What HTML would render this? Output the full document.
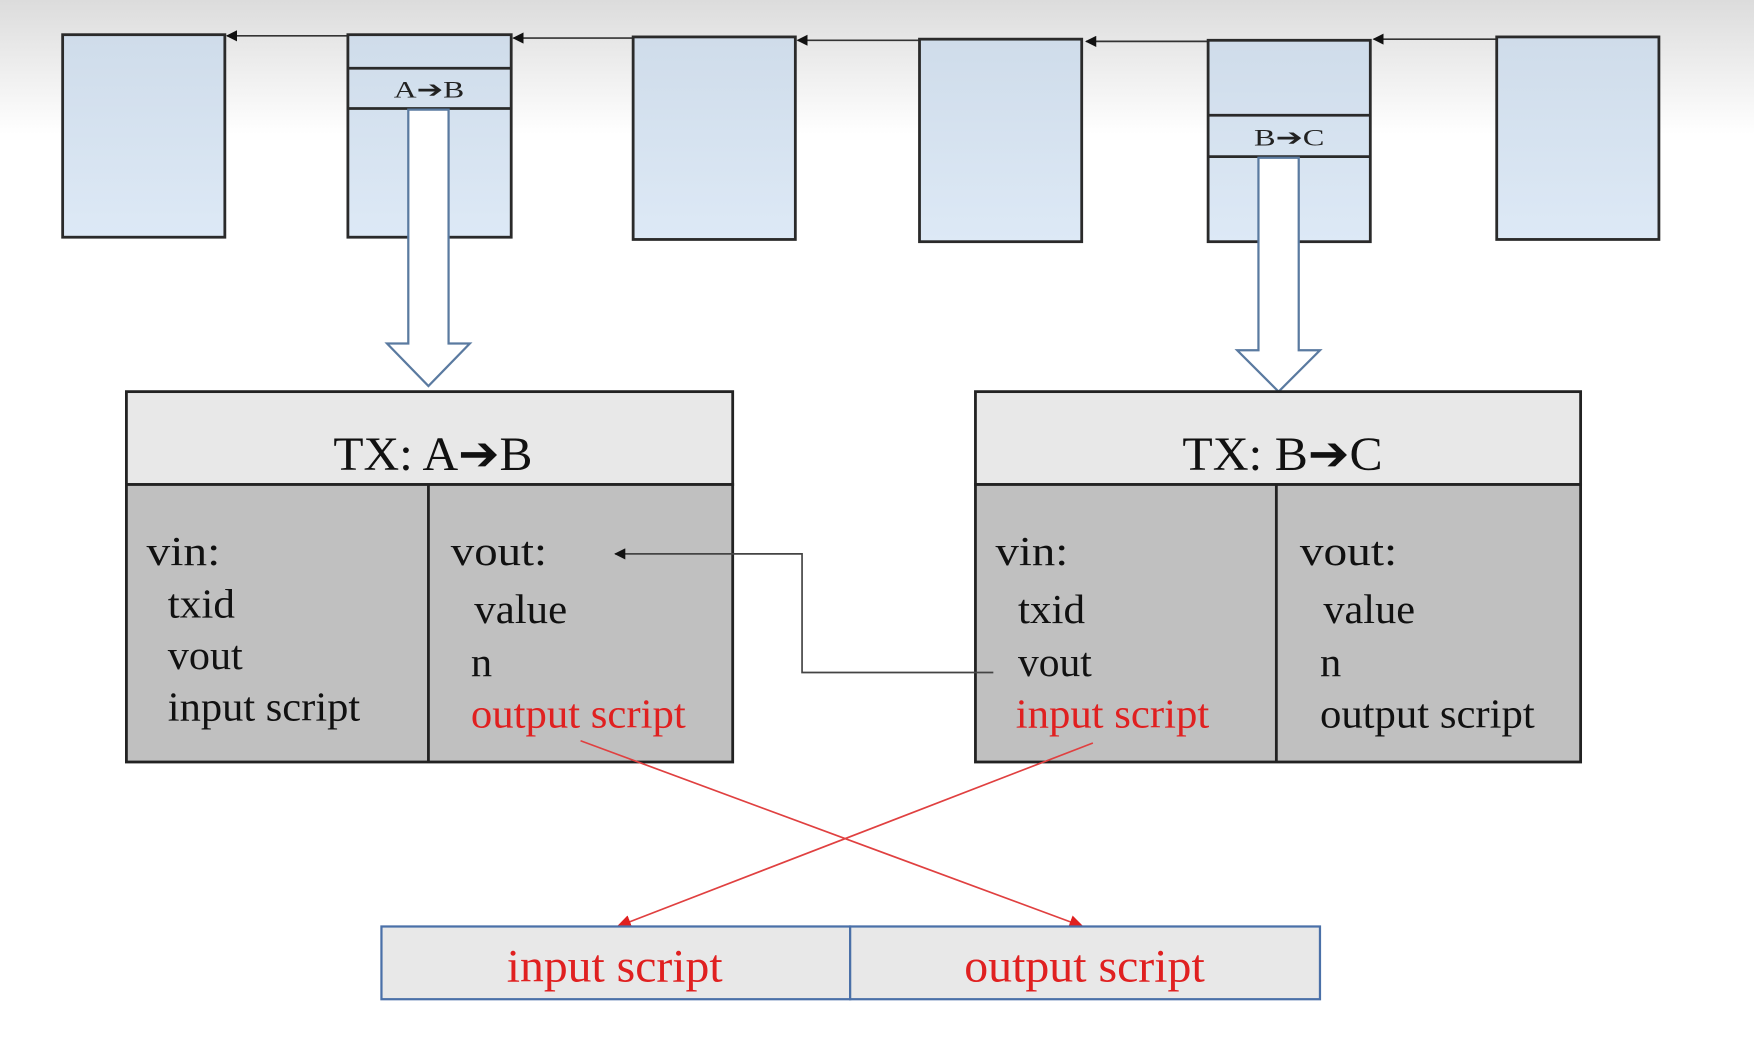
<!DOCTYPE html>
<html><head><meta charset="utf-8"><style>
html,body{margin:0;padding:0;background:#fff;}
svg{display:block;}
text{font-family:"Liberation Serif",serif;}
</style></head><body>
<svg width="1754" height="1063" viewBox="0 0 1568 950" preserveAspectRatio="none" xmlns="http://www.w3.org/2000/svg">
<defs>
<linearGradient id="bg" x1="0" y1="0" x2="0" y2="1">
<stop offset="0" stop-color="#dcdcdc"/><stop offset="1" stop-color="#ffffff"/></linearGradient>
<linearGradient id="blk" x1="0" y1="0" x2="0" y2="1">
<stop offset="0" stop-color="#cfdcea"/><stop offset="1" stop-color="#dde9f6"/></linearGradient>
<marker id="ab" markerWidth="10" markerHeight="10" refX="9" refY="5" orient="auto" markerUnits="userSpaceOnUse">
<path d="M0,0 L10,5 L0,10 z" fill="#111"/></marker>
<marker id="ar" markerWidth="14" markerHeight="12" refX="12" refY="6" orient="auto" markerUnits="userSpaceOnUse">
<path d="M0,0 L13,6 L0,12 z" fill="#e02020"/></marker>
</defs>
<rect x="0" y="0" width="1568" height="120" fill="url(#bg)"/>
<g stroke="#333" stroke-width="1.5" marker-end="url(#ab)">
<line x1="311" y1="32" x2="203" y2="32"/>
<line x1="566" y1="34" x2="459" y2="34"/>
<line x1="822" y1="36" x2="713" y2="36"/>
<line x1="1080" y1="37" x2="971" y2="37"/>
<line x1="1338" y1="35" x2="1228" y2="35"/>
</g>
<g fill="url(#blk)" stroke="#2a2a2a" stroke-width="2.5">
<rect x="56" y="31" width="145" height="181"/>
<rect x="311" y="31" width="146" height="181"/>
<rect x="566" y="33" width="145" height="181"/>
<rect x="822" y="35" width="145" height="181"/>
<rect x="1080" y="36" width="145" height="180"/>
<rect x="1338" y="33" width="145" height="181"/>
</g>
<g stroke="#2a2a2a" stroke-width="2.5">
<line x1="311" y1="61" x2="457" y2="61"/><line x1="311" y1="97" x2="457" y2="97"/>
<line x1="1080" y1="103" x2="1225" y2="103"/><line x1="1080" y1="140" x2="1225" y2="140"/>
</g>
<text x="352" y="87" font-size="21" textLength="63" lengthAdjust="spacingAndGlyphs" fill="#222">A➔B</text>
<text x="1121" y="130" font-size="21" textLength="63" lengthAdjust="spacingAndGlyphs" fill="#222">B➔C</text>
<g fill="#fff" stroke="#5a7aa0" stroke-width="2">
<path d="M365,98 L401,98 L401,307 L420,307 L383,345 L346,307 L365,307 Z"/>
<path d="M1125,141 L1161,141 L1161,313 L1180,313 L1143,350 L1106,313 L1125,313 Z"/>
</g>
<g stroke="#222" stroke-width="2.5">
<rect x="113" y="350" width="542" height="83" fill="#e8e8e8"/>
<rect x="113" y="433" width="542" height="248" fill="#c0c0c0"/>
<line x1="383" y1="433" x2="383" y2="681"/>
<rect x="872" y="350" width="541" height="83" fill="#e8e8e8"/>
<rect x="872" y="433" width="541" height="248" fill="#c0c0c0"/>
<line x1="1141" y1="433" x2="1141" y2="681"/>
</g>
<text x="298" y="420" font-size="43" textLength="178" lengthAdjust="spacingAndGlyphs" fill="#111">TX: A➔B</text>
<text x="1057" y="420" font-size="43" textLength="179" lengthAdjust="spacingAndGlyphs" fill="#111">TX: B➔C</text>
<g font-size="37" fill="#111" lengthAdjust="spacingAndGlyphs">
<text x="131" y="505" textLength="66" lengthAdjust="spacingAndGlyphs">vin:</text>
<text x="150" y="552" textLength="60" lengthAdjust="spacingAndGlyphs">txid</text>
<text x="150" y="598" textLength="67" lengthAdjust="spacingAndGlyphs">vout</text>
<text x="150" y="644" textLength="172" lengthAdjust="spacingAndGlyphs">input script</text>
<text x="403" y="505" textLength="86" lengthAdjust="spacingAndGlyphs">vout:</text>
<text x="424" y="557" textLength="83" lengthAdjust="spacingAndGlyphs">value</text>
<text x="421" y="604" textLength="19" lengthAdjust="spacingAndGlyphs">n</text>
<text x="421" y="650" fill="#e02020" textLength="192" lengthAdjust="spacingAndGlyphs">output script</text>
<text x="890" y="505" textLength="65" lengthAdjust="spacingAndGlyphs">vin:</text>
<text x="910" y="557" textLength="60" lengthAdjust="spacingAndGlyphs">txid</text>
<text x="910" y="604" textLength="66" lengthAdjust="spacingAndGlyphs">vout</text>
<text x="908" y="650" fill="#e02020" textLength="173" lengthAdjust="spacingAndGlyphs">input script</text>
<text x="1162" y="505" textLength="87" lengthAdjust="spacingAndGlyphs">vout:</text>
<text x="1183" y="557" textLength="82" lengthAdjust="spacingAndGlyphs">value</text>
<text x="1180" y="604" textLength="19" lengthAdjust="spacingAndGlyphs">n</text>
<text x="1180" y="650" textLength="192" lengthAdjust="spacingAndGlyphs">output script</text>
</g>
<polyline points="888,601 717,601 717,495 550,495" fill="none" stroke="#444" stroke-width="1.5" marker-end="url(#ab)"/>
<g stroke="#e04040" stroke-width="1.5" marker-end="url(#ar)">
<line x1="519" y1="662" x2="968" y2="828"/>
<line x1="977" y1="664" x2="552" y2="828"/>
</g>
<g fill="#e8e8e8" stroke="#4a70a8" stroke-width="2">
<rect x="341" y="828" width="419" height="65"/>
<rect x="760" y="828" width="420" height="65"/>
</g>
<text x="453" y="877" font-size="42" textLength="193" lengthAdjust="spacingAndGlyphs" fill="#e02020">input script</text>
<text x="862" y="877" font-size="42" textLength="215" lengthAdjust="spacingAndGlyphs" fill="#e02020">output script</text>
</svg>
</body></html>
